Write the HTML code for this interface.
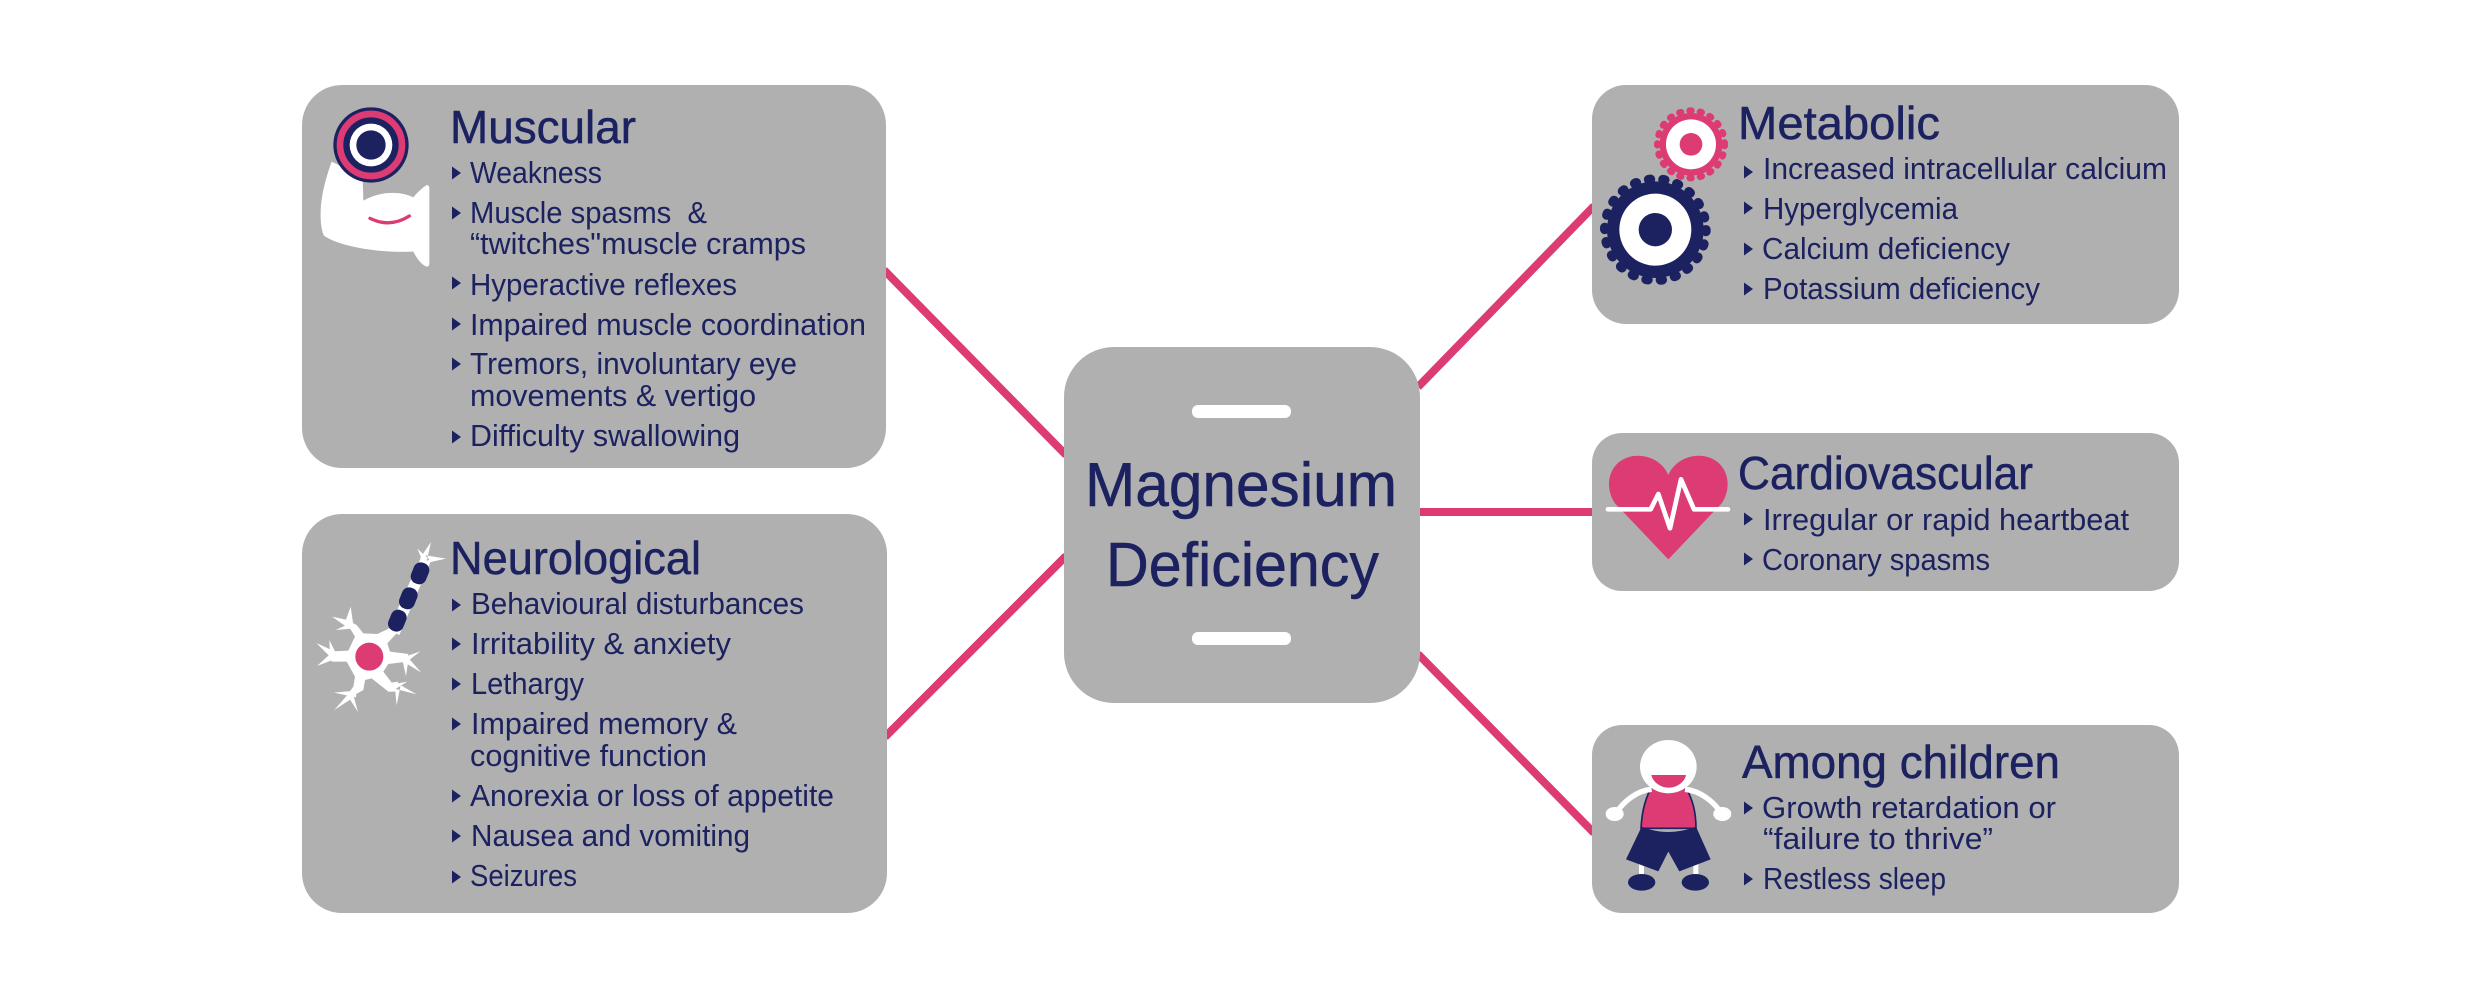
<!DOCTYPE html>
<html lang="en"><head><meta charset="utf-8"><title>Magnesium Deficiency</title>
<style>
html,body{margin:0;padding:0;background:#fff}
svg{display:block}
text{font-family:"Liberation Sans",sans-serif;fill:#1c2260}
.t{font-size:46px;stroke:#1c2260;stroke-width:.5px}
.i{font-size:31px}
.c{font-size:62px;stroke:#1c2260;stroke-width:.5px}
</style></head><body>
<svg xmlns="http://www.w3.org/2000/svg" width="2480" height="998" viewBox="0 0 2480 998">
<rect width="2480" height="998" fill="#fff"/>
<g stroke="#dc3b73" stroke-width="8" fill="none">
<path d="M884,270L1066,455"/><path d="M1066,556L885,737"/><path d="M1418,387L1594,206"/><path d="M1418,512H1594"/><path d="M1418,654L1594,833"/>
</g>
<g fill="#b0b0b0">
<rect x="302" y="85" width="584" height="383" rx="40"/>
<rect x="302" y="514" width="585" height="399" rx="40"/>
<rect x="1064" y="347" width="356" height="356" rx="50"/>
<rect x="1592" y="85" width="587" height="239" rx="34"/>
<rect x="1592" y="433" width="587" height="158" rx="30"/>
<rect x="1592" y="725" width="587" height="188" rx="30"/>
</g>
<rect x="1192" y="405" width="99" height="13" rx="6" fill="#fff"/>
<rect x="1192" y="632" width="99" height="13" rx="6" fill="#fff"/>

<text class="c" x="1085" y="506" textLength="312" lengthAdjust="spacingAndGlyphs">Magnesium</text>
<text class="c" x="1106" y="586" textLength="273" lengthAdjust="spacingAndGlyphs">Deficiency</text>

<!-- bullets -->
<path fill="#1c2260" d="M452,166.500l9,6.500l-9,6.500zM452,206.500l9,6.500l-9,6.500zM452,276.500l9,6.500l-9,6.500zM452,317.500l9,6.500l-9,6.500zM452,357.500l9,6.500l-9,6.500zM452,430.500l9,6.500l-9,6.500zM452,598.500l9,6.500l-9,6.500zM452,637.500l9,6.500l-9,6.500zM452,677.500l9,6.500l-9,6.500zM452,717.500l9,6.500l-9,6.500zM452,789.500l9,6.500l-9,6.500zM452,829.500l9,6.500l-9,6.500zM452,870.500l9,6.500l-9,6.500zM1744,165.500l9,6.500l-9,6.500zM1744,201.500l9,6.500l-9,6.500zM1744,242.500l9,6.500l-9,6.500zM1744,282.500l9,6.500l-9,6.500zM1744,512.500l9,6.500l-9,6.500zM1744,552.500l9,6.500l-9,6.500zM1744,801.500l9,6.500l-9,6.500zM1744,872.500l9,6.500l-9,6.500z"/>

<!-- Muscular -->
<text class="t" x="450" y="143" textLength="186" lengthAdjust="spacingAndGlyphs">Muscular</text>
<text class="i" x="470" y="183" textLength="132" lengthAdjust="spacingAndGlyphs">Weakness</text>
<text class="i" x="470" y="223" textLength="237" lengthAdjust="spacingAndGlyphs" xml:space="preserve">Muscle spasms  &amp;</text>
<text class="i" x="470" y="254" textLength="336" lengthAdjust="spacingAndGlyphs">“twitches"muscle cramps</text>
<text class="i" x="470" y="295" textLength="267" lengthAdjust="spacingAndGlyphs">Hyperactive reflexes</text>
<text class="i" x="470" y="335" textLength="396" lengthAdjust="spacingAndGlyphs">Impaired muscle coordination</text>
<text class="i" x="470" y="374" textLength="327" lengthAdjust="spacingAndGlyphs">Tremors, involuntary eye</text>
<text class="i" x="470" y="406" textLength="286" lengthAdjust="spacingAndGlyphs">movements &amp; vertigo</text>
<text class="i" x="470" y="446" textLength="270" lengthAdjust="spacingAndGlyphs">Difficulty swallowing</text>

<!-- Neurological -->
<text class="t" x="450" y="574" textLength="251" lengthAdjust="spacingAndGlyphs">Neurological</text>
<text class="i" x="471" y="614" textLength="333" lengthAdjust="spacingAndGlyphs">Behavioural disturbances</text>
<text class="i" x="471" y="654" textLength="260" lengthAdjust="spacingAndGlyphs">Irritability &amp; anxiety</text>
<text class="i" x="471" y="694" textLength="113" lengthAdjust="spacingAndGlyphs">Lethargy</text>
<text class="i" x="471" y="734" textLength="266" lengthAdjust="spacingAndGlyphs">Impaired memory &amp;</text>
<text class="i" x="470" y="766" textLength="237" lengthAdjust="spacingAndGlyphs">cognitive function</text>
<text class="i" x="470" y="806" textLength="364" lengthAdjust="spacingAndGlyphs">Anorexia or loss of appetite</text>
<text class="i" x="471" y="846" textLength="279" lengthAdjust="spacingAndGlyphs">Nausea and vomiting</text>
<text class="i" x="470" y="886" textLength="107" lengthAdjust="spacingAndGlyphs">Seizures</text>

<!-- Metabolic -->
<text class="t" x="1738" y="139" textLength="202" lengthAdjust="spacingAndGlyphs">Metabolic</text>
<text class="i" x="1763" y="179" textLength="404" lengthAdjust="spacingAndGlyphs">Increased intracellular calcium</text>
<text class="i" x="1763" y="219" textLength="195" lengthAdjust="spacingAndGlyphs">Hyperglycemia</text>
<text class="i" x="1762" y="259" textLength="248" lengthAdjust="spacingAndGlyphs">Calcium deficiency</text>
<text class="i" x="1763" y="299" textLength="277" lengthAdjust="spacingAndGlyphs">Potassium deficiency</text>

<!-- Cardiovascular -->
<text class="t" x="1738" y="489" textLength="295" lengthAdjust="spacingAndGlyphs">Cardiovascular</text>
<text class="i" x="1763" y="530" textLength="366" lengthAdjust="spacingAndGlyphs">Irregular or rapid heartbeat</text>
<text class="i" x="1762" y="570" textLength="228" lengthAdjust="spacingAndGlyphs">Coronary spasms</text>

<!-- Children -->
<text class="t" x="1742" y="778" textLength="318" lengthAdjust="spacingAndGlyphs">Among children</text>
<text class="i" x="1762" y="818" textLength="294" lengthAdjust="spacingAndGlyphs">Growth retardation or</text>
<text class="i" x="1763" y="849" textLength="230" lengthAdjust="spacingAndGlyphs">“failure to thrive”</text>
<text class="i" x="1763" y="889" textLength="183" lengthAdjust="spacingAndGlyphs">Restless sleep</text>

<!-- Muscle icon -->
<g transform="translate(300,90) scale(.3333)">
<path fill="#fff" d="M95,215C75,270 60,330 62,380C62,410 68,430 72,437C110,465 220,490 340,485C350,505 365,525 380,530Q388,530 388,520V295Q388,285 380,285C365,295 350,310 340,322C300,303 240,303 190,332L188,260Z"/>
<path d="M210,385Q270,415 328,378" fill="none" stroke="#dc3b73" stroke-width="10" stroke-linecap="round"/>
<circle cx="213" cy="165" r="113" fill="#1c2260"/>
<circle cx="213" cy="165" r="93" fill="none" stroke="#dc3b73" stroke-width="20"/>
<circle cx="213" cy="165" r="64" fill="#fff"/>
<circle cx="213" cy="165" r="44" fill="#1c2260"/>
</g>

<!-- Neuron icon -->
<g transform="translate(300,530) scale(.3333)" fill="#fff">
<path d="M140,270L170,285L190,310L232,312L268,295L290,310L262,340L270,365L325,372L322,395L265,402L250,425L275,458L295,455L285,485L265,485L215,445L195,450L190,480L160,497L145,490L160,470L165,440L140,395L95,395L85,365L145,362L165,320L150,295Z"/>
<path d="M265,298L362,85L392,95L298,315Z"/>
<path d="M152,230L160,285L134,280ZM96,260L152,272L142,292ZM107,300L150,280L155,296ZM49,339L104,364L90,380ZM88,330L108,370L90,376ZM51,408L95,368L108,386ZM361,364L312,402L310,382ZM364,428L310,395L320,378ZM318,438L306,385L326,385ZM322,455L275,464L275,484ZM350,493L285,456L276,474ZM290,526L284,465L302,465ZM102,488L168,482L168,502ZM103,540L155,480L170,496ZM174,546L138,490L156,480Z"/>
<path d="M393,36L380,95L360,85ZM352,56L388,88L372,102ZM438,86L378,76L374,100Z"/>
<circle cx="208" cy="380" r="42" fill="#dc3b73"/>
<g fill="#1c2260">
<rect x="-24" y="-33" width="48" height="66" rx="22" transform="translate(360,130) rotate(22)"/>
<rect x="-24" y="-33" width="48" height="66" rx="22" transform="translate(325,205) rotate(22)"/>
<rect x="-24" y="-33" width="48" height="66" rx="22" transform="translate(292,272) rotate(22)"/>
</g>
</g>

<!-- Gears -->
<g transform="translate(1590,95) scale(.3333)">
<circle cx="303" cy="148" r="94" fill="#dc3b73"/>
<circle cx="303" cy="148" r="101" fill="none" stroke="#dc3b73" stroke-width="20" stroke-linecap="round" stroke-dasharray="5 26.416"/>
<circle cx="303" cy="148" r="75" fill="#fff"/>
<circle cx="303" cy="148" r="34" fill="#dc3b73"/>
<circle cx="196" cy="404" r="145" fill="#1c2260"/>
<circle cx="196" cy="404" r="152" fill="none" stroke="#1c2260" stroke-width="28" stroke-linecap="round" stroke-dasharray="6 37.41"/>
<circle cx="196" cy="404" r="108" fill="#fff"/>
<circle cx="196" cy="404" r="50" fill="#1c2260"/>
</g>

<!-- Heart -->
<g transform="translate(1590,440) scale(.3333)">
<path fill="#dc3b73" d="M235,358L75,190C40,140 55,60 130,48C180,42 220,70 235,105C250,70 290,42 340,48C415,60 430,140 395,190Z"/>
<path d="M54,208H182L205,162L240,265L273,118L312,208H414" fill="none" stroke="#fff" stroke-width="14" stroke-linecap="round" stroke-linejoin="round"/>
</g>

<!-- Child -->
<g transform="translate(1590,730) scale(.3333)">
<rect x="147" y="400" width="15" height="35" fill="#fff"/>
<rect x="310" y="400" width="15" height="35" fill="#fff"/>
<ellipse cx="155" cy="457" rx="41" ry="25" fill="#1c2260"/>
<ellipse cx="316" cy="457" rx="41" ry="25" fill="#1c2260"/>
<path fill="#dc3b73" stroke="#1c2260" stroke-width="5" d="M182,175C160,220 155,260 153,295L318,295C318,250 310,210 288,175Z"/>
<path fill="#1c2260" d="M155,290Q235,322 318,290L362,388L268,424L235,365L205,424L108,388Z"/>
<path fill="none" stroke="#fff" stroke-width="16" d="M185,178C140,182 100,215 78,250M285,178C330,182 372,215 394,250"/>
<ellipse cx="74" cy="252" rx="27" ry="21" fill="#fff"/>
<ellipse cx="397" cy="252" rx="27" ry="21" fill="#fff"/>
<ellipse cx="235" cy="110" rx="85" ry="80" fill="#fff"/>
<path fill="#dc3b73" d="M184,135H288C285,155 262,173 236,173C210,173 188,155 184,135Z"/>
</g>
</svg>
</body></html>
